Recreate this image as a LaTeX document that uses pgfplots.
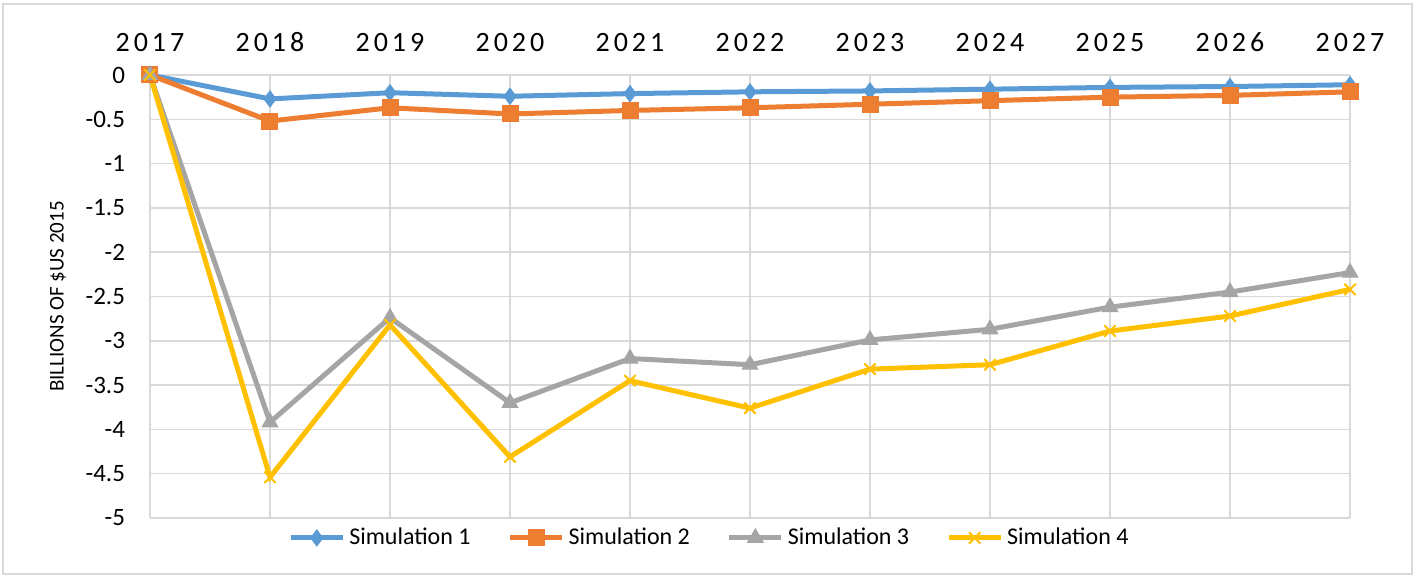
\documentclass[border=0pt]{standalone}
\usepackage{fontspec}
\setmainfont{Carlito}
\newfontfamily\spaced[LetterSpace=14]{Carlito}
\usepackage{pgfplots}
\pgfplotsset{compat=1.18}

\definecolor{simA}{HTML}{5B9BD5}
\definecolor{simB}{HTML}{ED7D31}
\definecolor{simC}{HTML}{A5A5A5}
\definecolor{simD}{HTML}{FFC000}
\definecolor{gridgray}{HTML}{D9D9D9}

\begin{document}
\begin{tikzpicture}
\begin{axis}[
    name=ax,
    scale only axis,
    width=600bp, height=221.5bp,
    xmin=2017, xmax=2027,
    ymin=-5, ymax=0,
    xtick={2017,2018,2019,2020,2021,2022,2023,2024,2025,2026,2027},
    xticklabels={2017,2018,2019,2020,2021,2022,2023,2024,2025,2026,2027},
    xticklabel pos=upper,
    xticklabel style={font=\spaced\fontsize{14bp}{14bp}\selectfont, yshift=8bp},
    ytick={-5,-4.5,-4,-3.5,-3,-2.5,-2,-1.5,-1,-0.5,0},
    yticklabels={-5,-4.5,-4,-3.5,-3,-2.5,-2,-1.5,-1,-0.5,0},
    yticklabel style={font=\fontsize{12.5bp}{12.5bp}\selectfont, xshift=-9bp},
    grid=major,
    grid style={draw=gridgray, line width=0.75bp},
    axis line style={draw=none},
    major tick length=0pt,
    ylabel={BILLIONS OF \$US 2015},
    ylabel style={at={(axis description cs:-0.0767,0.5)}, anchor=center, rotate=0,
        font=\fontsize{10.5bp}{10.5bp}\selectfont},
    legend columns=4,
    legend cell align=left,
    legend style={at={(0.467,-0.045)}, anchor=center, draw=none, fill=none,
        font=\fontsize{12bp}{12bp}\selectfont,
        /tikz/every even column/.append style={column sep=16.5bp}},
    legend image code/.code={\draw[mark repeat=2,mark phase=2]
        plot coordinates {(0bp,0bp) (13bp,0bp) (26bp,0bp)};},
    every axis plot/.append style={line width=2.5bp},
]
\addplot[color=simA, mark=diamond*, mark size=4bp, mark options={fill=simA, line width=0.5bp}] coordinates {
    (2017,0) (2018,-0.27) (2019,-0.20) (2020,-0.24) (2021,-0.21) (2022,-0.19)
    (2023,-0.18) (2024,-0.16) (2025,-0.14) (2026,-0.13) (2027,-0.11)
};
\addplot[color=simB, mark=square*, mark size=4bp, mark options={fill=simB, line width=0.5bp}] coordinates {
    (2017,0) (2018,-0.52) (2019,-0.37) (2020,-0.44) (2021,-0.40) (2022,-0.37)
    (2023,-0.33) (2024,-0.29) (2025,-0.25) (2026,-0.23) (2027,-0.19)
};
\addplot[color=simC, mark=triangle*, mark size=4.5bp, mark options={fill=simC, line width=0.5bp}] coordinates {
    (2017,0) (2018,-3.92) (2019,-2.74) (2020,-3.70) (2021,-3.20) (2022,-3.27)
    (2023,-2.99) (2024,-2.87) (2025,-2.62) (2026,-2.45) (2027,-2.23)
};
\addplot[color=simD, mark=x, mark size=4bp, mark options={line width=1bp}] coordinates {
    (2017,0) (2018,-4.54) (2019,-2.82) (2020,-4.31) (2021,-3.45) (2022,-3.76)
    (2023,-3.32) (2024,-3.27) (2025,-2.89) (2026,-2.72) (2027,-2.42)
};
\legend{Simulation 1, Simulation 2, Simulation 3, Simulation 4}
\end{axis}
\draw[gridgray, line width=0.75bp] ([xshift=-73.5bp,yshift=-28bp]ax.south west)
    rectangle ([xshift=31bp,yshift=35.5bp]ax.north east);
\path ([xshift=-75bp,yshift=-30bp]ax.south west)
    rectangle ([xshift=33bp,yshift=37.5bp]ax.north east);
\end{tikzpicture}
\end{document}
